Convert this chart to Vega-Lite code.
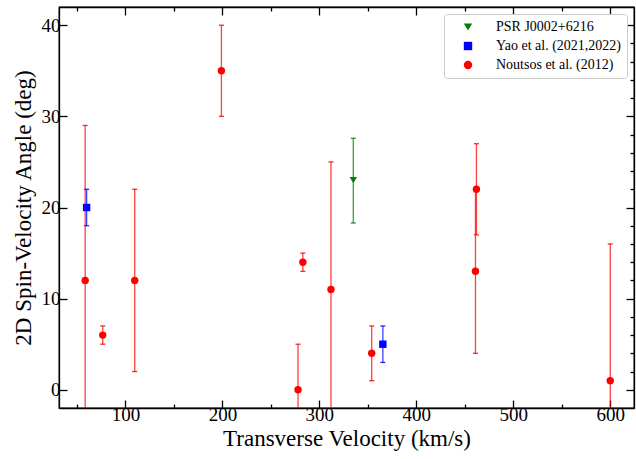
{
  "$schema": "https://vega.github.io/schema/vega-lite/v6.json",
  "width": 575,
  "height": 401,
  "autosize": "none",
  "padding": {"left": 59, "top": 7, "right": 2, "bottom": 51},
  "background": "white",
  "config": {
    "font": "Liberation Serif",
    "view": {"stroke": "black", "strokeWidth": 1.3},
    "axis": {
      "labelFont": "Liberation Serif",
      "labelFontSize": 19,
      "titleFont": "Liberation Serif",
      "titleFontSize": 23,
      "titleFontWeight": "normal",
      "labelColor": "black",
      "titleColor": "black",
      "domainColor": "black",
      "tickColor": "black",
      "grid": false,
      "tickWidth": 1.3,
      "domainWidth": 1.3,
      "labelOverlap": false
    }
  },
  "data": {
    "values": [
      {"series": "PSR J0002+6216", "v": 335, "a": 23, "lo": 18.3, "hi": 27.6},
      {"series": "Yao et al. (2021,2022)", "v": 60, "a": 20, "lo": 18, "hi": 22},
      {"series": "Yao et al. (2021,2022)", "v": 365.5, "a": 5, "lo": 3, "hi": 7},
      {"series": "Noutsos et al. (2012)", "v": 58.5, "a": 12, "lo": -5, "hi": 29},
      {"series": "Noutsos et al. (2012)", "v": 76.6, "a": 6, "lo": 5, "hi": 7},
      {"series": "Noutsos et al. (2012)", "v": 109.6, "a": 12, "lo": 2, "hi": 22},
      {"series": "Noutsos et al. (2012)", "v": 199, "a": 35, "lo": 30, "hi": 40},
      {"series": "Noutsos et al. (2012)", "v": 278, "a": 0, "lo": -5, "hi": 5},
      {"series": "Noutsos et al. (2012)", "v": 283, "a": 14, "lo": 13, "hi": 15},
      {"series": "Noutsos et al. (2012)", "v": 312, "a": 11, "lo": -3, "hi": 25},
      {"series": "Noutsos et al. (2012)", "v": 354, "a": 4, "lo": 1, "hi": 7},
      {"series": "Noutsos et al. (2012)", "v": 462, "a": 22, "lo": 17, "hi": 27},
      {"series": "Noutsos et al. (2012)", "v": 461, "a": 13, "lo": 4, "hi": 22},
      {"series": "Noutsos et al. (2012)", "v": 600, "a": 1, "lo": -14, "hi": 16}
    ]
  },
  "layer": [
    {
      "encoding": {
        "x": {
          "field": "v", "type": "quantitative",
          "scale": {"domain": [31.5, 624.5], "nice": false, "zero": false},
          "axis": {
            "orient": "bottom",
            "values": [50, 100, 150, 200, 250, 300, 350, 400, 450, 500, 550, 600],
            "tickSize": {"condition": {"test": "datum.value % 100 === 0", "value": -8}, "value": -4},
            "labelFontSize": {"condition": {"test": "datum.value % 100 === 0", "value": 19}, "value": 0},
            "labelExpr": "datum.value % 100 === 0 ? datum.label : ''",
            "labelOverlap": false,
            "labelPadding": 5,
            "title": "Transverse Velocity (km/s)",
            "titlePadding": 3
          }
        },
        "color": {
          "field": "series", "type": "nominal",
          "scale": {
            "domain": ["PSR J0002+6216", "Yao et al. (2021,2022)", "Noutsos et al. (2012)"],
            "range": ["#008000", "#0000ff", "#ff0000"]
          },
          "legend": {
            "title": null,
            "orient": "top-right",
            "offset": 7,
            "labelFont": "Liberation Serif",
            "labelFontSize": 14,
            "labelColor": "black",
            "symbolSize": 70,
            "symbolStrokeWidth": 0,
            "symbolOpacity": 1,
            "symbolOffset": 11,
            "rowPadding": 5,
            "labelOffset": 21,
            "padding": 6,
            "strokeColor": "#cccccc",
            "fillColor": "white",
            "cornerRadius": 3
          }
        }
      },
      "layer": [
        {
          "mark": {"type": "rule", "strokeWidth": 1.3, "opacity": 0.75, "clip": true},
          "encoding": {
            "y": {
              "field": "lo", "type": "quantitative",
              "scale": {"domain": [-2, 42], "nice": false, "zero": false},
              "axis": {
                "orient": "left",
                "values": [0, 10, 20, 30, 40],
                "tickSize": -8,
                "labelOverlap": false,
                "labelPadding": 7,
                "title": "2D Spin-Velocity Angle (deg)",
                "titlePadding": 6
              }
            },
            "y2": {"field": "hi"}
          }
        },
        {
          "mark": {"type": "tick", "orient": "horizontal", "size": 5, "thickness": 1.3, "opacity": 0.85, "clip": true},
          "encoding": {
            "y": {"field": "lo", "type": "quantitative"}
          }
        },
        {
          "mark": {"type": "tick", "orient": "horizontal", "size": 5, "thickness": 1.3, "opacity": 0.85, "clip": true},
          "encoding": {
            "y": {"field": "hi", "type": "quantitative"}
          }
        },
        {
          "mark": {"type": "point", "filled": true, "opacity": 1, "size": 55, "clip": true},
          "encoding": {
            "y": {"field": "a", "type": "quantitative"},
            "shape": {
              "field": "series", "type": "nominal",
              "scale": {
                "domain": ["PSR J0002+6216", "Yao et al. (2021,2022)", "Noutsos et al. (2012)"],
                "range": ["triangle-down", "square", "circle"]
              },
              "legend": null
            }
          }
        }
      ]
    },
    {
      "mark": {"type": "point", "opacity": 0},
      "encoding": {
        "x": {
          "field": "v", "type": "quantitative",
          "axis": {
            "orient": "top",
            "values": [50, 100, 150, 200, 250, 300, 350, 400, 450, 500, 550, 600],
            "tickSize": {"condition": {"test": "datum.value % 100 === 0", "value": -8}, "value": -4},
            "labels": false,
            "title": null
          }
        },
        "y": {
          "field": "a", "type": "quantitative",
          "axis": {
            "orient": "right",
            "values": [0, 2, 4, 6, 8, 10, 12, 14, 16, 18, 20, 22, 24, 26, 28, 30, 32, 34, 36, 38, 40],
            "tickSize": {"condition": {"test": "datum.value % 10 === 0", "value": -8}, "value": -4},
            "labels": false,
            "title": null
          }
        }
      }
    }
  ],
  "resolve": {"axis": {"x": "independent", "y": "independent"}}
}
